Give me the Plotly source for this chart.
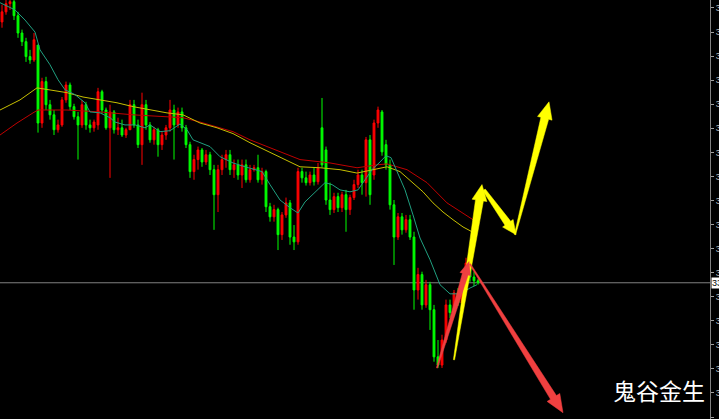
import plotly.graph_objects as go
import numpy as np

# ---------------- data ----------------
opens = [3412.1, 3414.2, 3415.9, 3416.3, 3413.4, 3409.8, 3408.0, 3404.9, 3404.2, 3407.3,
         3391.1, 3399.7, 3394.9, 3392.8, 3389.7, 3390.7, 3395.9, 3399.0, 3394.5, 3392.4,
         3390.7, 3394.9, 3390.7, 3390.1, 3390.7, 3397.6, 3393.8, 3390.1, 3393.4, 3389.7,
         3390.1, 3388.6, 3389.7, 3394.9, 3390.7, 3386.6, 3394.9, 3390.7, 3387.6, 3389.7,
         3386.6, 3388.6, 3390.1, 3393.8, 3390.7, 3393.4, 3390.1, 3386.6, 3381.0, 3383.5,
         3385.5, 3383.0, 3384.5, 3381.4, 3376.2, 3381.4, 3383.5, 3384.5, 3381.4, 3382.4,
         3380.3, 3382.4, 3379.3, 3381.4, 3381.8, 3379.3, 3381.0, 3373.7, 3371.6, 3373.1,
         3367.9, 3372.0, 3374.5, 3367.4, 3366.4, 3381.0, 3379.7, 3378.7, 3380.3, 3378.9,
         3390.1, 3385.5, 3375.1, 3373.1, 3375.8, 3373.5, 3376.2, 3373.1, 3375.6, 3378.3,
         3380.3, 3378.7, 3387.6, 3380.3, 3391.1, 3393.4, 3386.6, 3382.4, 3374.1, 3367.4,
         3371.6, 3368.9, 3371.0, 3367.4, 3356.4, 3359.6, 3353.3, 3357.5, 3352.3, 3342.5,
         3340.8, 3346.0, 3353.3, 3351.7, 3355.8, 3353.7, 3357.0, 3362.0, 3359.1, 3358.3]
highs = [3415.7, 3416.7, 3416.7, 3416.7, 3414.2, 3410.5, 3408.8, 3406.3, 3409.8, 3407.3,
         3400.5, 3400.7, 3395.9, 3393.8, 3391.8, 3396.5, 3399.7, 3399.5, 3395.1, 3393.4,
         3395.9, 3395.5, 3391.8, 3391.8, 3398.4, 3398.0, 3394.3, 3394.9, 3393.8, 3392.2,
         3391.8, 3390.1, 3395.9, 3395.9, 3391.8, 3397.4, 3395.9, 3391.3, 3390.3, 3390.1,
         3389.3, 3390.7, 3395.9, 3394.9, 3394.3, 3394.3, 3390.7, 3387.2, 3384.5, 3386.2,
         3385.9, 3385.5, 3385.1, 3382.4, 3382.4, 3384.5, 3385.5, 3385.5, 3383.5, 3383.5,
         3383.5, 3383.5, 3382.4, 3382.4, 3384.5, 3381.8, 3381.4, 3374.5, 3374.1, 3373.5,
         3372.6, 3375.6, 3375.1, 3369.9, 3381.8, 3381.8, 3381.0, 3381.0, 3381.8, 3382.8,
         3396.3, 3386.2, 3378.7, 3376.6, 3376.6, 3376.8, 3377.2, 3376.2, 3379.3, 3381.4,
         3381.4, 3388.2, 3388.6, 3391.8, 3394.5, 3393.8, 3387.6, 3383.5, 3375.1, 3372.4,
         3372.4, 3372.0, 3372.0, 3368.5, 3361.0, 3360.2, 3358.5, 3358.1, 3353.3, 3346.0,
         3347.1, 3354.4, 3354.4, 3356.4, 3356.8, 3357.9, 3363.1, 3362.7, 3360.2, 3358.7]
lows = [3410.9, 3413.6, 3414.6, 3412.5, 3408.8, 3407.1, 3403.8, 3403.4, 3403.8, 3389.1,
        3390.1, 3393.8, 3391.8, 3388.6, 3389.1, 3390.3, 3395.3, 3393.8, 3391.8, 3383.5,
        3390.1, 3389.7, 3389.1, 3389.3, 3389.7, 3393.0, 3389.7, 3379.7, 3388.9, 3388.6,
        3388.2, 3388.0, 3389.7, 3390.1, 3385.9, 3382.4, 3389.7, 3387.0, 3386.6, 3384.1,
        3385.5, 3387.6, 3389.3, 3383.5, 3390.1, 3389.3, 3385.9, 3379.7, 3379.3, 3381.4,
        3382.0, 3382.4, 3380.3, 3368.9, 3372.6, 3380.3, 3381.8, 3380.3, 3379.7, 3379.3,
        3377.6, 3378.7, 3378.7, 3381.0, 3378.7, 3378.3, 3372.6, 3370.6, 3370.6, 3364.7,
        3366.8, 3371.4, 3365.8, 3364.7, 3365.8, 3378.7, 3378.1, 3378.1, 3378.1, 3378.3,
        3381.8, 3374.1, 3372.0, 3372.4, 3372.6, 3372.6, 3368.5, 3372.0, 3375.1, 3377.6,
        3376.2, 3375.8, 3374.1, 3379.3, 3390.1, 3384.3, 3381.4, 3373.1, 3361.6, 3366.8,
        3367.9, 3368.3, 3366.8, 3352.3, 3354.4, 3352.3, 3352.7, 3348.1, 3341.5, 3340.2,
        3340.2, 3345.4, 3350.6, 3351.0, 3353.1, 3353.1, 3356.0, 3358.1, 3357.2, 3357.5]
closes = [3414.2, 3415.9, 3416.3, 3413.4, 3409.8, 3408.0, 3404.9, 3404.2, 3408.4, 3391.1,
          3399.7, 3394.9, 3392.8, 3389.7, 3390.7, 3395.9, 3399.0, 3394.5, 3392.4, 3390.7,
          3394.9, 3390.7, 3390.1, 3391.3, 3397.6, 3393.8, 3390.1, 3393.4, 3389.7, 3390.1,
          3388.6, 3389.7, 3394.9, 3390.7, 3386.6, 3394.9, 3390.7, 3387.6, 3389.7, 3386.6,
          3388.6, 3390.1, 3393.8, 3390.7, 3393.4, 3390.1, 3386.6, 3381.0, 3383.5, 3385.5,
          3383.0, 3384.5, 3381.4, 3376.2, 3381.4, 3383.5, 3384.5, 3381.4, 3382.4, 3380.3,
          3382.4, 3379.3, 3381.4, 3381.8, 3379.3, 3381.0, 3373.7, 3371.6, 3373.1, 3367.9,
          3372.0, 3374.5, 3367.4, 3366.4, 3381.0, 3379.7, 3378.7, 3380.3, 3378.9, 3381.8,
          3382.4, 3375.1, 3373.1, 3375.8, 3373.5, 3376.2, 3373.1, 3375.6, 3378.3, 3380.3,
          3378.7, 3387.6, 3376.2, 3391.1, 3393.8, 3385.1, 3382.4, 3374.1, 3367.4, 3371.6,
          3368.9, 3371.0, 3367.4, 3356.4, 3359.6, 3353.3, 3357.5, 3352.3, 3342.5, 3340.8,
          3346.0, 3353.3, 3351.7, 3355.8, 3353.7, 3357.0, 3362.0, 3359.1, 3358.3, 3357.9]
bar_index = list(range(len(closes)))

# moving averages: bar position, price
ma_fast_x = [-0.5, 3.25, 5.75, 8.25, 9.5, 12, 14, 15.75, 18.25, 20.75, 22, 24.5, 27, 28.25,
             30.75, 33.25, 35.75, 37, 39.5, 42, 44.5, 46.25, 47.75, 49.5, 52, 54.5, 57.75,
             60.75, 63.25, 65, 67, 69.5, 72, 74, 75.75, 78.25, 80.75, 82.5, 84.5, 87, 89,
             90.75, 92.5, 94.5, 96, 97.25, 98.5, 100.75, 102.75, 104.5, 107, 109.5, 112,
             114.5, 117, 118.75]
ma_fast_y = [3416.1, 3414.6, 3412.5, 3410.0, 3406.3, 3403.2, 3400.1, 3398.0, 3397.0, 3395.3,
             3393.4, 3393.2, 3392.2, 3391.3, 3390.7, 3390.7, 3390.1, 3390.7, 3389.3, 3389.5,
             3390.9, 3389.7, 3387.6, 3387.0, 3386.2, 3384.1, 3382.8, 3382.0, 3381.4, 3381.0,
             3378.3, 3375.1, 3373.5, 3372.4, 3374.7, 3376.8, 3378.7, 3378.3, 3377.2, 3376.8,
             3377.2, 3379.3, 3381.4, 3383.0, 3384.3, 3383.9, 3381.4, 3377.2, 3372.0, 3367.2,
             3362.7, 3357.5, 3355.6, 3355.6, 3356.8, 3357.5]
ma_mid_x = [-0.5, 4.5, 8.75, 12, 16.25, 20.25, 24.5, 28.75, 32.75, 37, 41.25, 45.25, 49.5,
            53.75, 57.75, 62, 65.75, 69.5, 74.5, 79.5, 84.5, 88.75, 92, 96.25, 99.5, 102.75,
            105.25, 107.75, 110.25, 112.75, 115.25, 117.5]
ma_mid_y = [3393.8, 3395.9, 3398.4, 3398.0, 3397.4, 3396.5, 3395.9, 3395.3, 3394.5, 3393.8,
            3393.2, 3392.8, 3391.1, 3390.1, 3388.9, 3387.0, 3385.5, 3384.1, 3382.0, 3381.8,
            3381.4, 3380.7, 3381.2, 3382.0, 3381.0, 3378.7, 3376.8, 3374.5, 3372.6, 3371.0,
            3369.5, 3368.5]
ma_slow_x = [-0.5, 3.75, 7.75, 9, 16.25, 24.5, 32.75, 41.25, 45.25, 49.5, 53.75, 57.75, 62,
             66.25, 74.5, 82, 88.75, 93.75, 96.25, 101.25, 106.25, 111.25, 117.75]
ma_slow_y = [3388.6, 3391.1, 3393.2, 3393.8, 3393.8, 3393.4, 3392.8, 3392.4, 3392.2, 3391.3,
             3390.3, 3389.3, 3387.6, 3386.2, 3383.5, 3382.8, 3381.8, 3382.4, 3382.6, 3381.4,
             3378.7, 3374.5, 3371.0]

current_price = 3357.9
price_ticks = [3415, 3410, 3405, 3400, 3395, 3390, 3385, 3380, 3375, 3370, 3365, 3360,
               3355, 3350, 3345, 3340, 3335, 3330]
tick_text = ["%.2f" % t for t in price_ticks]
watermark = "鬼谷金生"

# hand-drawn arrows: (tail bar, tail price, head bar, head price)
yellow_arrows = [(113.0, 3341.9, 120.0, 3378.3),
                 (120.5, 3377.2, 128.5, 3367.9),
                 (128.25, 3367.9, 136.75, 3395.5)]
red_arrows = [(108.75, 3340.2, 116.75, 3362.3),
              (117.0, 3361.8, 140.25, 3330.9)]

# ---------------- layout geometry ----------------
W, H = 719, 419
ML, MR, MT, MB = 0, 9, 0, 0
PW, PH = W - ML - MR, H - MT - MB
XR = [-0.5, -0.5 + PW / 4.0]
YR = [3329.59, 3416.66]


def to_px(x, y):
    return ((x - XR[0]) / (XR[1] - XR[0]) * PW, (YR[1] - y) / (YR[1] - YR[0]) * PH)


def to_data(px, py):
    return (XR[0] + px / PW * (XR[1] - XR[0]), YR[1] - py / PH * (YR[1] - YR[0]))


def arrow_poly(a, w0, w1, hw, hl):
    tx, ty = to_px(a[0], a[1])
    hx, hy = to_px(a[2], a[3])
    d = np.array([hx - tx, hy - ty])
    L = np.hypot(*d)
    u = d / L
    n = np.array([-u[1], u[0]])
    T = np.array([tx, ty])
    Hh = np.array([hx, hy])
    B = Hh - u * hl
    pts = [T + n * w0, B + n * w1, B + n * hw, Hh, B - n * hw, B - n * w1, T - n * w0, T + n * w0]
    xs, ys = zip(*[to_data(p[0], p[1]) for p in pts])
    return list(xs), list(ys)


fig = go.Figure()

fig.add_trace(go.Candlestick(
    x=bar_index, open=opens, high=highs, low=lows, close=closes,
    increasing=dict(line=dict(color="#ff0000", width=1), fillcolor="#ff0000"),
    decreasing=dict(line=dict(color="#00ff00", width=1), fillcolor="#00ff00"),
    whiskerwidth=0, showlegend=False, hoverinfo="skip"))

fig.add_trace(go.Scatter(x=ma_slow_x, y=ma_slow_y, mode="lines",
                         line=dict(color="#c00000", width=1), showlegend=False, hoverinfo="skip"))
fig.add_trace(go.Scatter(x=ma_mid_x, y=ma_mid_y, mode="lines",
                         line=dict(color="#c8c000", width=1), showlegend=False, hoverinfo="skip"))
fig.add_trace(go.Scatter(x=ma_fast_x, y=ma_fast_y, mode="lines",
                         line=dict(color="#20a080", width=1), showlegend=False, hoverinfo="skip"))

for a, spec in zip(yellow_arrows, [(0.6, 4, 7.5, 16), (1.5, 3.5, 6.5, 14), (0.6, 4, 7.5, 17)]):
    xs, ys = arrow_poly(a, *spec)
    fig.add_trace(go.Scatter(x=xs, y=ys, mode="lines", fill="toself", fillcolor="#ffff00",
                             line=dict(color="#ffff00", width=0.5), showlegend=False, hoverinfo="skip"))
for a, spec in zip(red_arrows, [(0.6, 3.0, 5.5, 13), (0.6, 3.5, 7.5, 18)]):
    xs, ys = arrow_poly(a, *spec)
    fig.add_trace(go.Scatter(x=xs, y=ys, mode="lines", fill="toself", fillcolor="#f04040",
                             line=dict(color="#f04040", width=0.5), showlegend=False, hoverinfo="skip"))

fig.add_shape(type="line", xref="paper", yref="y", x0=0, x1=1, y0=current_price, y1=current_price,
              line=dict(color="#808080", width=1), layer="below")

fig.add_annotation(xref="paper", yref="y", x=1, y=current_price, xanchor="left", yanchor="middle",
                   xshift=1, text="%.2f" % current_price, showarrow=False, bgcolor="#ffffff",
                   font=dict(color="#000000", size=9, family="Liberation Sans"), borderpad=0)

fig.add_annotation(xref="paper", yref="paper", x=659 / PW, y=1 - 390 / PH, text=watermark,
                   showarrow=False, xanchor="center", yanchor="middle",
                   font=dict(color="#ffffff", size=23, family="Noto Sans CJK SC"))

fig.update_layout(
    width=W, height=H, margin=dict(l=ML, r=MR, t=MT, b=MB, pad=0),
    paper_bgcolor="#000000", plot_bgcolor="#000000",
    boxgap=0.35, hovermode=False,
    xaxis=dict(range=XR, visible=False, rangeslider=dict(visible=False), fixedrange=True),
    yaxis=dict(range=YR, side="right", showgrid=False, zeroline=False, showline=True,
               linecolor="#808080", linewidth=1, ticks="outside", ticklen=3, tickcolor="#a0a0a0",
               tickvals=price_ticks, ticktext=tick_text, automargin=False,
               tickfont=dict(color="#c0c0c0", size=9, family="Liberation Sans"), fixedrange=True),
)

fig.write_html("out.html", config={"displayModeBar": False},
               post_script="document.body.style.margin='0';document.body.style.background='#000';"
                           "document.body.style.overflow='hidden';")
